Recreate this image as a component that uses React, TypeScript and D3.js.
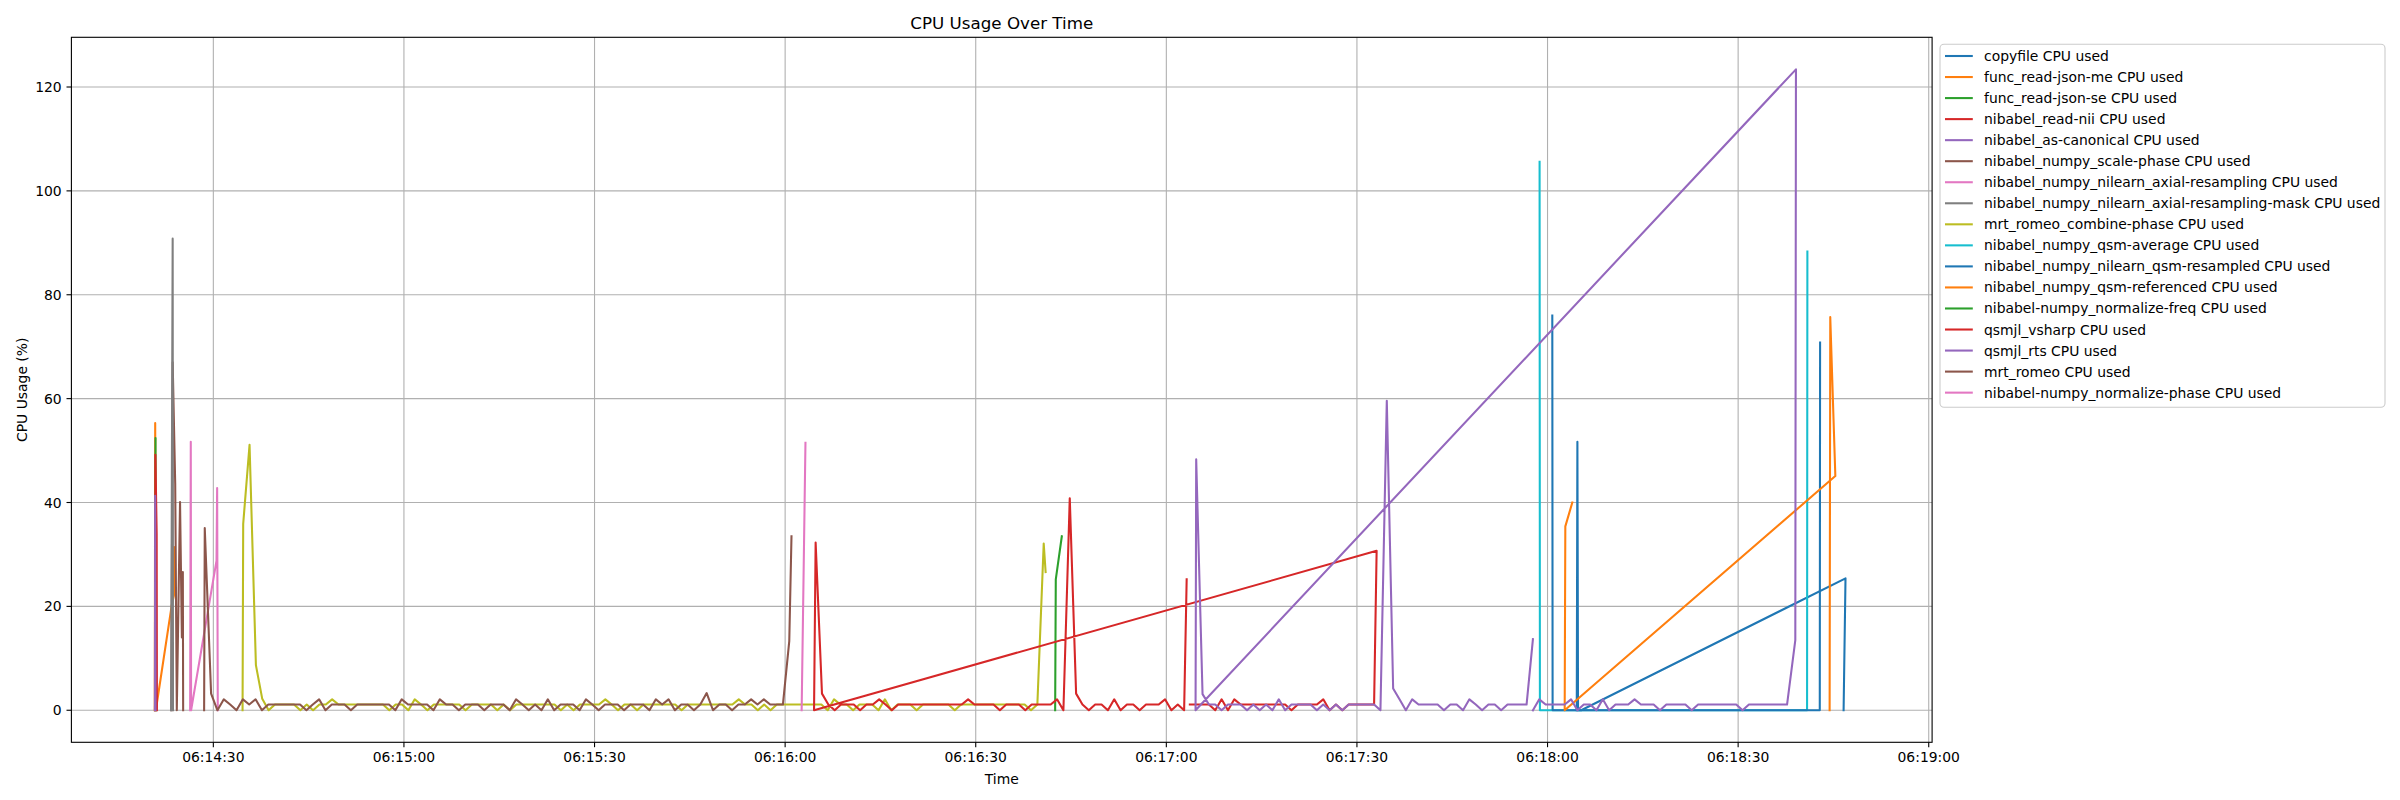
import * as d3 from "d3";

// every point: [seconds after 06:14:00, CPU %]
type Pt = [number, number];

const seriesNames = [
  "copyfile CPU used",
  "func_read-json-me CPU used",
  "func_read-json-se CPU used",
  "nibabel_read-nii CPU used",
  "nibabel_as-canonical CPU used",
  "nibabel_numpy_scale-phase CPU used",
  "nibabel_numpy_nilearn_axial-resampling CPU used",
  "nibabel_numpy_nilearn_axial-resampling-mask CPU used",
  "mrt_romeo_combine-phase CPU used",
  "nibabel_numpy_qsm-average CPU used",
  "nibabel_numpy_nilearn_qsm-resampled CPU used",
  "nibabel_numpy_qsm-referenced CPU used",
  "nibabel-numpy_normalize-freq CPU used",
  "qsmjl_vsharp CPU used",
  "qsmjl_rts CPU used",
  "mrt_romeo CPU used",
  "nibabel-numpy_normalize-phase CPU used",
];

// samples logged once a second
const romeoVals = [
  35.1, 3.2, 0, 2.1, 1.1, 0, 2.1, 1.1, 2.1, 0,
  1.1, 1.1, 1.1, 1.1, 1.1, 1.1, 0, 1.1, 2.1, 0,
  1.1, 1.1, 1.1, 0, 1.1, 1.1, 1.1, 1.1, 1.1, 1.1,
  0, 2.1, 1.1, 1.1, 1.1, 1.1, 0, 2.1, 1.1, 1.1,
  0, 1.1, 1.1, 1.1, 0, 1.1, 1.1, 1.1, 0, 2.1,
  1.1, 0, 1.1, 0, 2.1, 0, 1.1, 1.1, 1.1, 0,
  2.1, 1.1, 0, 1.1, 1.1, 1.1, 0, 1.1, 1.1, 1.1,
  0, 2.1, 1.1, 2.1, 0, 1.1, 1.1, 0, 1.1, 3.3,
  0, 1.1, 1.1, 0, 1.1, 1.1, 2.1, 1.1, 2.1, 1.1,
  1.1, 1.1, 13.3,
];

const combinePhaseVals = [
  35.9, 51.1, 8.7, 2.2, 0, 1.1, 1.1, 1.1, 1.1, 0,
  1.1, 0, 1.1, 1.1, 2.1, 1.1, 1.1, 1.1, 1.1, 1.1,
  1.1, 1.1, 1.1, 0, 1.1, 1.1, 0, 2.1, 1.1, 0,
  1.1, 1.1, 1.1, 1.1, 1.1, 0, 1.1, 1.1, 1.1, 1.1,
  0, 1.1, 0, 1.1, 1.1, 1.1, 1.1, 1.1, 1.1, 1.1,
  0, 1.1, 0, 1.1, 1.1, 1.1, 1.1, 2.1, 1.1, 0,
  1.1, 1.1, 0, 1.1, 1.1, 1.1, 1.1, 1.1, 1.1, 0,
  1.1, 1.1, 1.1, 1.1, 1.1, 1.1, 1.1, 1.1, 2.1, 1.1,
  1.1, 0, 1.1, 0, 1.1, 1.1, 1.1, 1.1, 1.1, 1.1,
  1.1, 1.1, 0, 2.1, 1.1, 1.1, 0, 1.1, 1.1, 1.1,
  0, 2.1, 0, 1.1, 1.1, 1.1, 0, 1.1, 1.1, 1.1,
  1.1, 1.1, 0, 1.1, 1.1, 1.1, 1.1, 1.1, 1.1, 1.1,
  1.1, 1.1, 1.1, 1.1, 0, 1.1, 32.1,
];

const vsharpEarlyVals = [
  32.3, 3.2, 1.1, 0, 1.1, 1.1, 1.1, 0, 1.1, 1.1,
  2.1, 1.1, 0, 1.1, 1.1, 1.1, 1.1, 1.1, 1.1, 1.1,
  1.1, 1.1, 1.1, 1.1, 2.1, 1.1, 1.1, 1.1, 1.1, 0,
  1.1, 1.1, 1.1, 0, 1.1, 1.1, 1.1, 1.1, 2.1, 0,
  40.8, 3.2, 1.1, 0, 1.1, 1.1, 0, 2.1, 0, 1.1,
  1.1, 0, 1.1, 1.1, 1.1, 2.1, 0, 1.1, 0,
];

const vsharpLateVals = [
  1.1, 1.1, 1.1, 1.1, 0, 2.1, 0, 2.1, 1.1, 1.1,
  1.1, 1.1, 1.1, 1.1, 1.1, 1.1, 0, 1.1, 1.1, 1.1,
  1.1, 2.1, 0, 1.1, 0, 1.1, 1.1, 1.1, 1.1, 1.1,
];

const rtsEarlyVals = [
  48.3, 3.1, 1.1, 1.1, 0, 1.1, 1.1, 1.1, 0, 1.1,
  0, 1.1, 0, 2.1, 0, 1.1, 1.1, 1.1, 1.1, 0,
  1.1, 0, 1.1, 0, 1.1, 1.1, 1.1, 1.1, 1.1, 0,
  59.6, 4.2, 2.1, 0, 2.1, 1.1, 1.1, 1.1, 1.1, 0,
  1.1, 1.1, 0, 2.1, 1.1, 0, 1.1, 1.1, 0, 1.1,
  1.1, 1.1, 1.1, 13.7,
];

const rtsLateVals = [
  0, 2.1, 1.1, 1.1, 1.1, 1.1, 2.1, 0, 1.1, 1.1,
  0, 2.1, 0, 1.1, 1.1, 1.1, 2.1, 1.1, 1.1, 1.1,
  0, 1.1, 1.1, 1.1, 1.1, 0, 1.1, 1.1, 1.1, 1.1,
  1.1, 1.1, 1.1, 0, 1.1, 1.1, 1.1, 1.1, 1.1, 1.1,
  1.1,
];

const perSecond = (t0: number, vals: number[]): Pt[] =>
  vals.map((v, i) => [t0 + i, v] as Pt);

// the log rows are not always in time order, lines follow row order
const copyfile: Pt[] = [[286.6, 0], [286.9, 25.4], [245.3, 0], [244.8, 0], [244.75, 28.9], [244.7, 51.7], [244.6, 0]];
const readJsonMe: Pt[] = [[20.78, 0], [20.85, 55.3], [20.95, 0], [23.45, 20.2], [23.8, 22.1], [23.85, 31.4]];
const readJsonSe: Pt[] = [[20.85, 0], [20.9, 52.4], [20.95, 0]];
const readNii: Pt[] = [[20.82, 0], [20.88, 49.2], [21.08, 34.0], [21.12, 0]];
const asCanonical: Pt[] = [[20.8, 0], [20.85, 41.3], [20.9, 0]];
const scalePhase: Pt[] = [[23.4, 0], [23.6, 67.0], [24.0, 43.6], [24.25, 0], [24.76, 40.1], [25.05, 14.0], [25.2, 26.6], [25.25, 0]];
const axialResampling: Pt[] = [[26.35, 0], [26.45, 51.7], [26.5, 0], [30.5, 28.8], [30.6, 42.8], [30.7, 0]];
const axialMask: Pt[] = [[23.35, 0], [23.6, 90.8], [23.65, 0]];
const combinePhase: Pt[] = [[34.6, 0], ...perSecond(34.7, combinePhaseVals), [161.0, 26.6]];
const qsmAverage: Pt[] = [[238.75, 105.6], [238.8, 0], [280.85, 0], [280.9, 88.3]];
const qsmResampled: Pt[] = [[240.75, 76.0], [240.8, 0], [282.85, 0], [282.9, 70.8]];
const qsmReferenced: Pt[] = [[284.4, 0], [284.5, 75.7], [285.3, 45.1], [242.7, 0], [242.8, 35.4], [243.9, 40.0]];
const normalizeFreq: Pt[] = [[162.5, 0], [162.6, 25.2], [163.55, 33.5]];
const vsharp: Pt[] = [
  ...perSecond(183.7, vsharpLateVals), [213.1, 30.7],
  [124.55, 0], ...perSecond(124.8, vsharpEarlyVals), [183.2, 25.2],
];
const rts: Pt[] = [
  ...perSecond(237.7, rtsLateVals), [279.0, 13.5], [279.1, 123.4],
  [184.6, 0], ...perSecond(184.7, rtsEarlyVals),
];
const romeo: Pt[] = [[28.55, 0], ...perSecond(28.65, romeoVals), [121.0, 33.5]];
const normalizePhase: Pt[] = [[122.6, 0], [123.2, 51.5]];

const seriesPoints = [
  copyfile, readJsonMe, readJsonSe, readNii, asCanonical, scalePhase,
  axialResampling, axialMask, combinePhase, qsmAverage, qsmResampled,
  qsmReferenced, normalizeFreq, vsharp, rts, romeo, normalizePhase,
];

const W = 2400;
const H = 800;
const box = { left: 71.4, right: 1932.1, top: 37.3, bottom: 742.3 };
const xFrom = 7.66;
const xTo = 300.53;
const FONT = "DejaVu Sans, sans-serif";

const day0 = new Date(2024, 0, 1, 6, 14, 0).getTime();
const at = (s: number) => new Date(day0 + s * 1000);

export default function App() {
  const x = d3.scaleTime().domain([at(xFrom), at(xTo)]).range([box.left, box.right]);
  const yMax = d3.max(seriesPoints, (s) => d3.max(s, (p) => p[1])) ?? 0;
  const pad = yMax * 0.05;
  const y = d3.scaleLinear().domain([-pad, yMax + pad]).range([box.bottom, box.top]);

  const line = d3
    .line<Pt>()
    .x((d) => x(at(d[0])))
    .y((d) => y(d[1]));

  const xTicks = x.ticks(d3.timeSecond.every(30)!);
  const fmt = d3.timeFormat("%H:%M:%S");
  const yTicks = y.ticks(6);
  const colors = d3.schemeCategory10;

  const lg = { x: 1940, y: 44.3, w: 445, h: 363, row0: 56, step: 21.04 };

  return (
    <svg
      width={W}
      height={H}
      style={{ position: "fixed", left: 0, top: 0, background: "#fff" }}
      fontFamily={FONT}
    >
      <rect width={W} height={H} fill="#fff" />

      {/* grid */}
      {xTicks.map((t, i) => (
        <line key={"gx" + i} x1={x(t)} x2={x(t)} y1={box.top} y2={box.bottom} stroke="#b0b0b0" strokeWidth={1.1} />
      ))}
      {yTicks.map((v, i) => (
        <line key={"gy" + i} x1={box.left} x2={box.right} y1={y(v)} y2={y(v)} stroke="#b0b0b0" strokeWidth={1.1} />
      ))}

      <clipPath id="plot">
        <rect x={box.left} y={box.top} width={box.right - box.left} height={box.bottom - box.top} />
      </clipPath>
      <g clipPath="url(#plot)">
        {seriesPoints.map((pts, i) => (
          <path
            key={i}
            d={line(pts) ?? ""}
            fill="none"
            stroke={colors[i % 10]}
            strokeWidth={2.08}
            strokeLinejoin="round"
            strokeLinecap="square"
          />
        ))}
      </g>

      {/* spines */}
      <rect
        x={box.left}
        y={box.top}
        width={box.right - box.left}
        height={box.bottom - box.top}
        fill="none"
        stroke="#000"
        strokeWidth={1.1}
      />

      {/* x axis */}
      {xTicks.map((t, i) => (
        <g key={"xt" + i}>
          <line x1={x(t)} x2={x(t)} y1={box.bottom} y2={box.bottom + 4.9} stroke="#000" strokeWidth={1.1} />
          <text x={x(t)} y={box.bottom + 20} textAnchor="middle" fontSize={13.9} fill="#000">
            {fmt(t)}
          </text>
        </g>
      ))}
      <text x={(box.left + box.right) / 2} y={784} textAnchor="middle" fontSize={13.9} fill="#000">
        Time
      </text>

      {/* y axis */}
      {yTicks.map((v, i) => (
        <g key={"yt" + i}>
          <line x1={box.left - 4.9} x2={box.left} y1={y(v)} y2={y(v)} stroke="#000" strokeWidth={1.1} />
          <text x={box.left - 9.7} y={y(v) + 5} textAnchor="end" fontSize={13.9} fill="#000">
            {v}
          </text>
        </g>
      ))}
      <text
        transform={`translate(27,${(box.top + box.bottom) / 2}) rotate(-90)`}
        textAnchor="middle"
        fontSize={13.9}
        fill="#000"
      >
        CPU Usage (%)
      </text>

      <text x={(box.left + box.right) / 2} y={29} textAnchor="middle" fontSize={16.7} fill="#000">
        CPU Usage Over Time
      </text>

      {/* legend */}
      <rect
        x={lg.x}
        y={lg.y}
        width={lg.w}
        height={lg.h}
        rx={4}
        fill="#fff"
        fillOpacity={0.8}
        stroke="#cccccc"
        strokeWidth={1.1}
      />
      {seriesNames.map((name, i) => {
        const cy = lg.row0 + i * lg.step;
        return (
          <g key={"lg" + i}>
            <line x1={lg.x + 5} x2={lg.x + 32.8} y1={cy} y2={cy} stroke={colors[i % 10]} strokeWidth={2.08} />
            <text x={lg.x + 44} y={cy + 5} fontSize={13.9} fill="#000">
              {name}
            </text>
          </g>
        );
      })}
    </svg>
  );
}
